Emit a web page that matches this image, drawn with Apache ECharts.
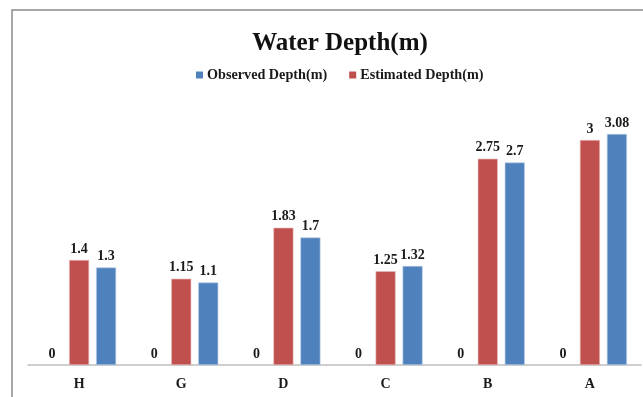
<!DOCTYPE html>
<html>
<head>
<meta charset="utf-8">
<script src="https://cdn.jsdelivr.net/npm/echarts@6/dist/echarts.min.js"></script>
<style>
  html, body { margin: 0; padding: 0; background: #fff; }
  #chart { width: 643px; height: 397px; }
</style>
</head>
<body>
<div id="chart"></div>
<script>
// Sampling stations along the section
const categories = ['H', 'G', 'D', 'C', 'B', 'A'];
// Leading zero-value series, drawn only as its "0" labels
const zeroValues = [0, 0, 0, 0, 0, 0];
const estimatedDepth = [1.4, 1.15, 1.83, 1.25, 2.75, 3];
const observedDepth = [1.3, 1.1, 1.7, 1.32, 2.7, 3.08];

const FONT = '"Liberation Serif", "Times New Roman", serif';
const labelStyle = {
  show: true,
  position: 'top',
  distance: 4,
  fontFamily: FONT,
  fontWeight: 'bold',
  fontSize: 14,
  color: '#1a1a1a'
};

const chart = echarts.init(document.getElementById('chart'));
chart.setOption({
  animation: false,
  backgroundColor: '#fff',
  graphic: [{
    type: 'rect',
    shape: { x: 12, y: 10, width: 700, height: 500 },
    style: { fill: 'none', stroke: '#8a8a8a', lineWidth: 1.5 },
    silent: true
  }],
  title: {
    text: 'Water Depth(m)',
    left: 335,
    textAlign: 'center',
    top: 26,
    textStyle: { fontFamily: FONT, fontWeight: 'bold', fontSize: 25, color: '#111' }
  },
  legend: {
    data: ['Observed Depth(m)', 'Estimated Depth(m)'],
    left: 191,
    top: 63,
    itemWidth: 7,
    itemHeight: 7,
    itemGap: 22,
    icon: 'rect',
    itemStyle: { borderWidth: 0 },
    textStyle: { fontFamily: FONT, fontWeight: 'bold', fontSize: 14.2, color: '#1a1a1a', padding: [0, 0, 0, -1] }
  },
  grid: { left: 28, right: 2, top: 102.5, bottom: 32, containLabel: false },
  xAxis: {
    type: 'category',
    data: categories,
    axisLine: { show: true, lineStyle: { color: '#bfbfbf', width: 1.5 } },
    axisTick: { show: false },
    axisLabel: { fontFamily: FONT, fontWeight: 'bold', fontSize: 14, color: '#1a1a1a', margin: 12 }
  },
  yAxis: {
    type: 'value',
    min: 0,
    max: 3.5,
    show: false,
    splitLine: { show: false }
  },
  series: [
    {
      name: 'zero',
      type: 'bar',
      data: zeroValues,
      barWidth: 20,
      barGap: '35%',
      itemStyle: { color: 'rgba(0,0,0,0)' },
      label: labelStyle
    },
    {
      name: 'Estimated Depth(m)',
      type: 'bar',
      data: estimatedDepth,
      barWidth: 20,
      barGap: '35%',
      itemStyle: { color: '#C0504D', borderColor: '#e9b9b8', borderWidth: 0.6 },
      label: labelStyle
    },
    {
      name: 'Observed Depth(m)',
      type: 'bar',
      data: observedDepth,
      barWidth: 20,
      barGap: '35%',
      itemStyle: { color: '#4F81BD', borderColor: '#b9cde6', borderWidth: 0.6 },
      label: labelStyle
    }
  ]
});
</script>
</body>
</html>
